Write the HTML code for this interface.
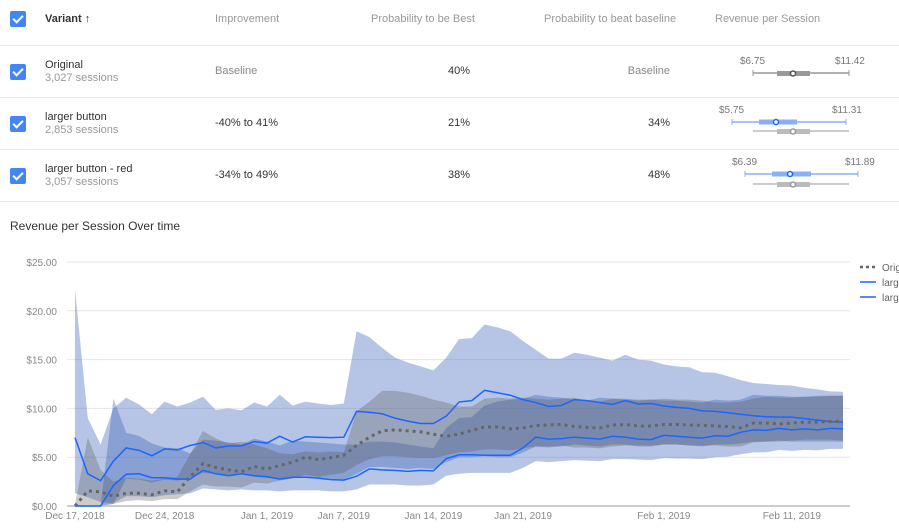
<!DOCTYPE html>
<html><head><meta charset="utf-8"><style>
body{margin:0;width:899px;height:528px;overflow:hidden;background:#fff;font-family:"Liberation Sans",sans-serif;position:relative}
.t{position:absolute;font-size:11px;color:#999;white-space:nowrap}
.d{color:#333}
.line{position:absolute;left:0;width:899px;height:1px;background:#e8e8e8}
.cb{position:absolute;left:10px;width:16px;height:16px;background:#4285f4;border-radius:2px}
.cb:after{content:"";position:absolute;left:5px;top:2px;width:4px;height:8px;border:solid #fff;border-width:0 2px 2px 0;transform:rotate(45deg)}
</style></head><body>
<div class="cb" style="top:11px"></div>
<div class="t d" style="left:45px;top:13px;font-weight:bold;font-size:11px">Variant ↑</div>
<div class="t" style="left:215px;top:13px">Improvement</div>
<div class="t" style="left:371px;top:13px">Probability to be Best</div>
<div class="t" style="left:544px;top:13px">Probability to beat baseline</div>
<div class="t" style="left:715px;top:13px">Revenue per Session</div>
<div class="line" style="top:45px"></div>
<div class="line" style="top:97px"></div>
<div class="line" style="top:149px"></div>
<div class="line" style="top:201px"></div>

<div class="cb" style="top:64px"></div>
<div class="t d" style="left:45px;top:59px">Original</div>
<div class="t" style="left:45px;top:72px">3,027 sessions</div>
<div class="t" style="left:215px;top:65px;color:#888">Baseline</div>
<div class="t d" style="right:429px;top:65px">40%</div>
<div class="t" style="right:229px;top:65px;color:#888">Baseline</div>

<div class="cb" style="top:116px"></div>
<div class="t d" style="left:45px;top:111px">larger button</div>
<div class="t" style="left:45px;top:124px">2,853 sessions</div>
<div class="t d" style="left:215px;top:117px">-40% to 41%</div>
<div class="t d" style="right:429px;top:117px">21%</div>
<div class="t d" style="right:229px;top:117px">34%</div>

<div class="cb" style="top:168px"></div>
<div class="t d" style="left:45px;top:163px">larger button - red</div>
<div class="t" style="left:45px;top:176px">3,057 sessions</div>
<div class="t d" style="left:215px;top:169px">-34% to 49%</div>
<div class="t d" style="right:429px;top:169px">38%</div>
<div class="t d" style="right:229px;top:169px">48%</div>

<div class="t" style="left:740px;top:56px;font-size:10px;color:#777">$6.75</div>
<div class="t" style="left:835px;top:56px;font-size:10px;color:#777">$11.42</div>
<div class="t" style="left:719px;top:105px;font-size:10px;color:#777">$5.75</div>
<div class="t" style="left:832px;top:105px;font-size:10px;color:#777">$11.31</div>
<div class="t" style="left:732px;top:157px;font-size:10px;color:#777">$6.39</div>
<div class="t" style="left:845px;top:157px;font-size:10px;color:#777">$11.89</div>

<svg style="position:absolute;left:0;top:0" width="899" height="210">
<g><line x1="753" x2="849" y1="73" y2="73" stroke="#999" stroke-width="1.5"/><line x1="753" x2="753" y1="70" y2="76" stroke="#999"/><line x1="849" x2="849" y1="70" y2="76" stroke="#999"/><rect x="777" y="71" width="33" height="5" fill="#999"/><circle cx="793" cy="73.5" r="2.5" fill="#fff" stroke="#555" stroke-width="1.5"/></g>
<g><line x1="732" x2="846" y1="122" y2="122" stroke="#8ab0f8" stroke-width="1.5"/><line x1="732" x2="732" y1="119" y2="125" stroke="#8ab0f8"/><line x1="846" x2="846" y1="119" y2="125" stroke="#8ab0f8"/><rect x="759" y="119.5" width="38" height="5" fill="#8ab0f8"/><circle cx="776" cy="122" r="2.5" fill="#fff" stroke="#1a66ff" stroke-width="1.5"/>
<line x1="753" x2="849" y1="131" y2="131" stroke="#bbb" stroke-width="1.5"/><rect x="777" y="129" width="33" height="5" fill="#bbb"/><circle cx="793" cy="131.5" r="2.5" fill="#fff" stroke="#999" stroke-width="1.5"/></g>
<g><line x1="745" x2="858" y1="174" y2="174" stroke="#8ab0f8" stroke-width="1.5"/><line x1="745" x2="745" y1="171" y2="177" stroke="#8ab0f8"/><line x1="858" x2="858" y1="171" y2="177" stroke="#8ab0f8"/><rect x="772" y="171.5" width="39" height="5" fill="#8ab0f8"/><circle cx="790" cy="174" r="2.5" fill="#fff" stroke="#1a66ff" stroke-width="1.5"/>
<line x1="753" x2="849" y1="184" y2="184" stroke="#bbb" stroke-width="1.5"/><rect x="777" y="182" width="33" height="5" fill="#bbb"/><circle cx="793" cy="184.5" r="2.5" fill="#fff" stroke="#999" stroke-width="1.5"/></g>
</svg>

<div class="t" style="left:10px;top:219px;font-size:12px;color:#333">Revenue per Session Over time</div>
<svg id="chart" style="position:absolute;left:0;top:0" width="899" height="528"></svg>
<script>
const yTicks=[0,5,10,15,20,25];
const xTickLabels=["Dec 17, 2018","Dec 24, 2018","Jan 1, 2019","Jan 7, 2019","Jan 14, 2019","Jan 21, 2019","Feb 1, 2019","Feb 11, 2019"];
const xTickDays=[0,7,15,21,28,35,46,56];
const seriesNames=["Original","larger button","larger button - red"];
const original=[0,1.55,1.45,1.0,1.3,1.3,1.15,1.55,1.45,3.0,4.35,3.95,3.7,3.5,4.05,3.8,4.15,4.5,5.0,4.75,4.95,5.2,6.2,7.05,7.7,7.8,7.7,7.6,7.35,7.15,7.35,7.75,8.1,8.1,7.9,8.0,8.25,8.3,8.35,8.15,8.05,8.0,8.3,8.35,8.2,8.2,8.35,8.35,8.3,8.25,8.2,8.15,8.0,8.5,8.5,8.4,8.5,8.6,8.6,8.65,8.7];
const originalHi=[0.2,7.0,3.7,2.5,2.9,2.8,2.6,2.8,3.0,5.3,7.7,6.9,6.4,6.6,6.3,5.9,5.4,5.3,5.6,5.5,5.6,5.5,9.7,10.7,11.8,11.8,11.6,11.3,10.9,10.6,10.2,10.2,11.0,11.1,11.0,11.1,11.0,10.9,11.0,11.1,10.8,10.7,11.0,11.0,10.9,10.9,11.0,10.9,10.9,10.8,10.6,10.6,10.7,11.0,11.2,11.1,11.1,11.2,11.2,11.3,11.3];
const originalLo=[0,0.1,0.1,0.2,0.5,0.6,0.5,0.7,0.7,1.5,2.2,2.0,2.0,1.9,2.4,2.3,2.6,2.8,3.2,3.0,3.2,3.4,4.2,4.8,5.1,5.1,5.0,4.9,4.9,5.2,5.5,5.6,5.8,5.8,5.7,5.9,6.1,6.1,6.2,6.0,6.0,5.9,6.1,6.2,6.2,6.2,6.3,6.3,6.2,6.2,6.2,6.1,6.1,6.5,6.6,6.6,6.7,6.8,6.8,6.8,6.7];
const larger=[0,0,0,2.1,3.25,3.3,2.9,2.9,2.75,2.75,3.65,3.3,3.1,3.3,3.1,3.0,2.75,2.95,2.95,2.85,2.7,2.65,3.05,3.8,3.7,3.65,3.55,3.65,3.6,4.85,5.25,5.25,5.2,5.2,5.2,5.95,7.05,6.85,6.9,7.05,6.95,6.85,7.15,7.05,6.85,6.8,7.25,7.15,7.05,6.95,7.2,7.15,7.55,7.8,7.75,7.95,7.8,7.9,7.8,7.95,7.9];
const largerHi=[0,0,0,11.0,7.5,7.2,6.4,6.0,5.9,5.4,6.8,6.7,6.5,6.3,6.9,6.6,6.2,6.7,6.6,6.5,6.4,6.3,6.3,6.6,6.6,6.5,6.3,6.1,5.9,8.0,9.0,9.1,10.3,10.7,10.9,11.0,11.4,11.2,11.1,10.9,10.8,11.1,11.0,10.9,10.8,10.9,10.8,10.8,10.7,10.6,10.9,10.8,10.9,11.4,11.3,11.3,11.2,11.2,11.3,11.3,11.3];
const largerLo=[0,0,0,0.2,2.8,2.7,2.4,2.7,2.6,2.9,3.4,3.3,3.1,3.3,3.0,2.9,2.8,3.0,3.0,2.9,2.8,2.7,3.3,4.0,4.0,3.9,3.8,3.9,3.8,4.5,5.0,5.0,5.1,5.0,5.0,5.5,6.1,6.0,6.1,6.3,6.2,6.1,6.3,6.3,6.1,6.1,6.3,6.3,6.2,6.1,6.3,6.3,6.4,6.6,6.6,6.7,6.6,6.6,6.6,6.6,6.6];
const red=[7.0,3.3,2.6,4.6,5.95,5.7,5.15,5.85,5.75,6.2,6.5,5.95,6.15,6.15,6.6,6.45,7.15,6.55,7.1,7.05,7.0,7.05,9.7,9.6,9.45,9.0,8.7,8.45,8.45,9.2,10.65,10.8,11.85,11.6,11.35,10.9,10.6,10.2,10.3,10.9,10.8,10.6,10.4,10.8,10.45,10.5,10.25,10.1,10.0,9.75,9.7,9.55,9.4,9.25,9.15,9.1,9.1,8.95,8.8,8.65,8.6];
const redHi=[22.2,9.0,6.3,10.0,11.1,10.4,9.4,10.7,10.2,10.6,11.2,9.85,10.0,9.8,10.6,10.2,11.4,10.3,10.7,10.5,10.35,10.5,17.9,17.3,16.2,15.2,14.7,14.3,13.9,15.2,17.1,17.2,18.6,18.3,17.9,16.9,16.0,15.1,15.1,15.7,15.5,15.2,14.9,15.5,15.0,14.9,14.5,14.3,14.2,13.7,13.65,13.3,12.9,12.6,12.5,12.4,12.35,12.1,11.95,11.75,11.7];
const redLo=[1.3,0.9,0.4,0.3,1.0,1.0,0.9,1.1,1.2,1.3,1.8,1.7,1.6,1.7,1.6,1.6,1.5,1.6,1.6,1.6,1.5,1.5,1.7,2.2,2.2,2.2,2.1,2.1,2.2,3.1,3.3,3.4,3.4,3.4,3.4,3.9,4.6,4.5,4.6,4.7,4.65,4.6,4.8,4.8,4.75,4.7,4.9,4.85,4.85,4.8,5.0,5.05,5.3,5.5,5.5,5.75,5.65,5.75,5.7,5.85,5.85];

const NS="http://www.w3.org/2000/svg";
const svg=document.getElementById('chart');
const X0=67,X1=850,Y0=506,Y1=262,PX0=75,PX1=843,ND=original.length-1;
const xs=d=>PX0+(PX1-PX0)*d/ND;
const ys=v=>Y0-(Y0-Y1)*v/25;
function mk(tag,attrs){const e=document.createElementNS(NS,tag);for(const k in attrs)e.setAttribute(k,attrs[k]);svg.appendChild(e);return e;}
yTicks.forEach(v=>{
  const g=mk('line',{x1:X0,x2:X1,y1:ys(v),y2:ys(v),stroke:v===0?'#ccc':'#e6e6e6','stroke-width':v===0?2:1});
  
  
  const t=mk('text',{x:57,y:ys(v)+4,'text-anchor':'end','font-size':10,fill:'#888','font-family':'Liberation Sans, sans-serif'});
  t.textContent='$'+v.toFixed(2);
  
  
});
xTickLabels.forEach((l,i)=>{
  const t=mk('text',{x:xs(xTickDays[i]),y:519,'text-anchor':'middle','font-size':10,fill:'#888','font-family':'Liberation Sans, sans-serif'});
  t.textContent=l;
  
  
});
function band(hi,lo,fill,op,name){
  let p='';hi.forEach((v,i)=>p+=(i?'L':'M')+xs(i)+','+ys(v));
  for(let i=lo.length-1;i>=0;i--)p+='L'+xs(i)+','+ys(lo[i]);
  const e=mk('path',{d:p+'Z',fill:fill,'fill-opacity':op});
  
  
}
function line(a,stroke,w,dash,name){
  const e=mk('polyline',{points:a.map((v,i)=>xs(i)+','+ys(v)).join(' '),fill:'none',stroke:stroke,'stroke-width':w,'stroke-dasharray':dash});
  
  
}
band(redHi,redLo,'#3a63b8',0.37,'larger-button-red-band');
band(largerHi,largerLo,'#3a63b8',0.37,'larger-button-band');
band(originalHi,originalLo,'#555',0.3,'original-band');
line(red,'#1a66ff',1.5,'none','larger-button-red-line');
line(larger,'#1a66ff',1.5,'none','larger-button-line');
line(original,'#666',3,'3,4','original-line');
const leg=[['#666','3,3'],['#1a66ff','none'],['#1a66ff','none']];
leg.forEach((s,i)=>{
  const y=267+15*i;
  const l=mk('line',{x1:860,x2:876,y1:y,y2:y,stroke:s[0],'stroke-width':s[1]==='none'?1.5:2.5,'stroke-dasharray':s[1]});
  
  
  const t=mk('text',{x:882,y:y+4,'font-size':10,fill:'#666','font-family':'Liberation Sans, sans-serif'});
  t.textContent=seriesNames[i];
  
  
});
</script>
</body></html>
